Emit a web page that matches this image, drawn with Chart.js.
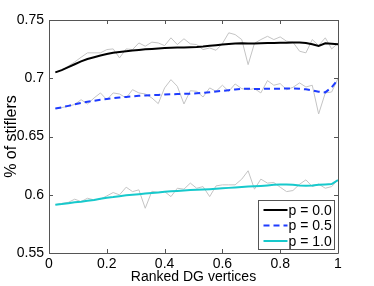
<!DOCTYPE html>
<html>
<head>
<meta charset="utf-8">
<script src="https://cdn.jsdelivr.net/npm/chart.js@4/dist/chart.umd.min.js"></script>
<style>
  html, body { margin: 0; padding: 0; background: #fff; }
</style>
</head>
<body>
<canvas id="myChart" width="374" height="286"></canvas>
<script>
// ranked vertex position (fraction)
const xValues = [0.022, 0.044, 0.067, 0.089, 0.111, 0.133, 0.156, 0.178, 0.2, 0.222,
  0.244, 0.267, 0.289, 0.311, 0.333, 0.356, 0.378, 0.4, 0.422, 0.444,
  0.467, 0.489, 0.511, 0.533, 0.556, 0.578, 0.6, 0.622, 0.644, 0.667,
  0.689, 0.711, 0.733, 0.756, 0.778, 0.8, 0.822, 0.844, 0.867, 0.889,
  0.911, 0.933, 0.956, 0.978, 1.0];

// raw (noisy) curves, grey
const rawP00 = [0.705, 0.707, 0.7105, 0.714, 0.718, 0.7218, 0.7218, 0.7218, 0.7246, 0.7252,
  0.7175, 0.7252, 0.7246, 0.7303, 0.7275, 0.731, 0.7303, 0.728, 0.7347, 0.7289,
  0.7339, 0.7295, 0.7289, 0.7246, 0.726, 0.724, 0.7298, 0.739, 0.7375, 0.7332,
  0.7117, 0.730, 0.7332, 0.736, 0.7332, 0.7355, 0.7318, 0.731, 0.7232, 0.7218,
  0.7332, 0.7281, 0.7347, 0.7252, 0.730];
const rawP05 = [0.674, 0.6748, 0.676, 0.6775, 0.6816, 0.6779, 0.6831, 0.6874, 0.6816, 0.6874,
  0.6865, 0.6831, 0.6902, 0.6874, 0.6865, 0.6831, 0.6782, 0.6917, 0.6988, 0.6931,
  0.6779, 0.6893, 0.6888, 0.6839, 0.6917, 0.6888, 0.694, 0.6888, 0.6951, 0.6911,
  0.6902, 0.6911, 0.6874, 0.698, 0.694, 0.6954, 0.6902, 0.6922, 0.696, 0.6925,
  0.694, 0.6693, 0.6874, 0.6882, 0.6997];
const rawP10 = [0.5915, 0.5925, 0.5935, 0.5962, 0.5941, 0.597, 0.5956, 0.5962, 0.599, 0.6019,
  0.5999, 0.6065, 0.6027, 0.6042, 0.5884, 0.603, 0.6019, 0.6027, 0.5984, 0.6056,
  0.6048, 0.61, 0.6056, 0.607, 0.5984, 0.6076, 0.6085, 0.6085, 0.6085, 0.6134,
  0.6206, 0.6048, 0.6134, 0.61, 0.6105, 0.6065, 0.6027, 0.6036, 0.609, 0.6128,
  0.607, 0.6091, 0.6056, 0.607, 0.6128];

// smoothed curves
const smoothP00 = [0.705, 0.707, 0.7095, 0.712, 0.7145, 0.7165, 0.718, 0.7195, 0.7208, 0.7218,
  0.7225, 0.7232, 0.7238, 0.7243, 0.7248, 0.7252, 0.7256, 0.726, 0.7262, 0.7264,
  0.7265, 0.7266, 0.7268, 0.7272, 0.7278, 0.7284, 0.729, 0.7295, 0.7298, 0.730,
  0.7299, 0.7298, 0.730, 0.7302, 0.7303, 0.7304, 0.7305, 0.7306, 0.7306, 0.7302,
  0.7292, 0.7278, 0.730, 0.7296, 0.7292];
const smoothP05 = [0.674, 0.675, 0.6763, 0.6776, 0.6788, 0.6798, 0.6807, 0.6815, 0.6822, 0.6829,
  0.6835, 0.684, 0.6845, 0.6849, 0.6852, 0.6855, 0.6857, 0.686, 0.6862, 0.6864,
  0.6866, 0.6868, 0.6871, 0.6875, 0.688, 0.6886, 0.6892, 0.6898, 0.6904, 0.691,
  0.691, 0.6908, 0.6908, 0.691, 0.691, 0.691, 0.6912, 0.6912, 0.691, 0.6905,
  0.6895, 0.6884, 0.6879, 0.6922, 0.6988];
const smoothP10 = [0.5915, 0.592, 0.5928, 0.5935, 0.594, 0.5948, 0.5955, 0.5965, 0.5975, 0.598,
  0.5988, 0.5995, 0.600, 0.6005, 0.601, 0.6015, 0.602, 0.6025, 0.603, 0.6033,
  0.6036, 0.604, 0.6042, 0.6045, 0.6048, 0.6052, 0.6055, 0.6059, 0.6063, 0.6067,
  0.607, 0.6073, 0.6076, 0.608, 0.6085, 0.6088, 0.6088, 0.6085, 0.608, 0.6078,
  0.608, 0.6085, 0.6088, 0.6092, 0.6125];

const seriesLabels = ["p = 0.0", "p = 0.5", "p = 1.0"];

// axis ticks
const xTickValues = [0, 0.2, 0.4, 0.6, 0.8, 1];
const xTickLabels = ["0", "0.2", "0.4", "0.6", "0.8", "1"];
const yTickValues = [0.55, 0.6, 0.65, 0.7, 0.75];
const yTickLabels = ["0.55", "0.6", "0.65", "0.7", "0.75"];

const FONT = "'Liberation Sans', Arial, Helvetica, sans-serif";
const AXIS_COLOR = "#555";

const toPoints = (ys) => ys.map((y, i) => ({ x: xValues[i], y: y }));

function rawSet(ys) {
    return {
        label: "",
        data: toPoints(ys),
        borderColor: "#c4c4c4",
        borderWidth: 1,
        pointRadius: 0,
        order: 2,
    };
}

const smoothSets = [
    { label: seriesLabels[0], data: toPoints(smoothP00), borderColor: "#000000", borderWidth: 2, borderDash: [] },
    { label: seriesLabels[1], data: toPoints(smoothP05), borderColor: "#1f3cff", borderWidth: 2, borderDash: [6, 4] },
    { label: seriesLabels[2], data: toPoints(smoothP10), borderColor: "#17c9cc", borderWidth: 2, borderDash: [] },
].map(d => Object.assign(d, { pointRadius: 0, order: 1 }));

// box round the plot, inward ticks on all four sides, legend in the corner
const matlabAxes = {
    id: "matlabAxes",
    afterDatasetsDraw(chart) {
        const { ctx, chartArea: a, scales } = chart;
        ctx.save();
        ctx.strokeStyle = AXIS_COLOR;
        ctx.lineWidth = 1;
        ctx.beginPath();
        ctx.rect(Math.round(a.left) + 0.5, Math.round(a.top) + 0.5,
            Math.round(a.right - a.left), Math.round(a.bottom - a.top));
        ctx.stroke();

        const len = 4;
        ctx.beginPath();
        xTickValues.forEach(v => {
            const px = Math.round(scales.x.getPixelForValue(v)) + 0.5;
            ctx.moveTo(px, a.bottom); ctx.lineTo(px, a.bottom - len);
            ctx.moveTo(px, a.top); ctx.lineTo(px, a.top + len);
        });
        yTickValues.forEach(v => {
            const py = Math.round(scales.y.getPixelForValue(v)) + 0.5;
            ctx.moveTo(a.left, py); ctx.lineTo(a.left + len, py);
            ctx.moveTo(a.right, py); ctx.lineTo(a.right - len, py);
        });
        ctx.stroke();

        // legend
        const boxW = 76, boxH = 49;
        const bx = Math.round(a.right) - 4 - boxW + 0.5;
        const by = Math.round(a.bottom) - 4 - boxH + 0.5;
        ctx.fillStyle = "#fff";
        ctx.fillRect(bx, by, boxW, boxH);
        ctx.strokeStyle = AXIS_COLOR;
        ctx.strokeRect(bx, by, boxW, boxH);
        ctx.font = "14px " + FONT;
        ctx.textBaseline = "middle";
        ctx.fillStyle = "#000";
        smoothSets.forEach((ds, i) => {
            const cy = by + 9.5 + i * 15.5;
            ctx.strokeStyle = ds.borderColor;
            ctx.lineWidth = ds.borderWidth;
            ctx.setLineDash(ds.borderDash);
            ctx.beginPath();
            ctx.moveTo(bx + 5, cy);
            ctx.lineTo(bx + 29, cy);
            ctx.stroke();
            ctx.setLineDash([]);
            ctx.fillText(ds.label, bx + 30, cy + 1);
        });
        ctx.restore();
    }
};

const myChart = new Chart("myChart", {
    type: "line",
    data: {
        datasets: smoothSets.concat([rawSet(rawP00), rawSet(rawP05), rawSet(rawP10)]),
    },
    options: {
        responsive: false,
        animation: false,
        layout: { padding: { top: 20, right: 36, left: 0, bottom: 0 } },
        plugins: {
            legend: { display: false },
            tooltip: { enabled: false },
        },
        scales: {
            x: {
                type: "linear",
                min: 0,
                max: 1,
                afterBuildTicks: (s) => { s.ticks = xTickValues.map(v => ({ value: v })); },
                afterFit: (s) => { s.height = 33; },
                ticks: {
                    callback: (v, i) => xTickLabels[i],
                    color: "#000",
                    font: { family: FONT, size: 14 },
                    padding: 3,
                    maxRotation: 0,
                },
                grid: { display: false, drawTicks: false },
                border: { display: false },
                title: {
                    display: true,
                    text: "Ranked DG vertices",
                    color: "#000",
                    font: { family: FONT, size: 14 },
                    padding: { top: 0, bottom: 0 },
                },
            },
            y: {
                type: "linear",
                min: 0.55,
                max: 0.75,
                afterBuildTicks: (s) => { s.ticks = yTickValues.map(v => ({ value: v })); },
                afterFit: (s) => { s.width = 49; },
                ticks: {
                    callback: (v, i) => yTickLabels[i],
                    color: "#000",
                    font: { family: FONT, size: 14 },
                    padding: 5,
                },
                grid: { display: false, drawTicks: false },
                border: { display: false },
                title: {
                    display: true,
                    text: "% of stiflers",
                    color: "#000",
                    font: { family: FONT, size: 16 },
                    padding: { top: 2, bottom: 0 },
                },
            },
        },
    },
    plugins: [matlabAxes],
});
</script>
</body>
</html>
